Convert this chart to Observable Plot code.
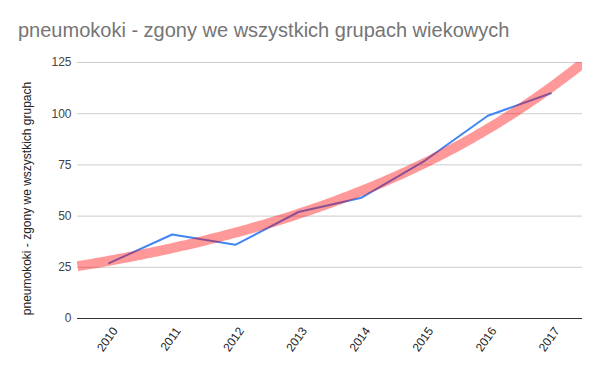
<!DOCTYPE html>
<html>
<head>
<meta charset="utf-8">
<script src="https://cdn.jsdelivr.net/npm/d3@7"></script>
<script src="https://cdn.jsdelivr.net/npm/@observablehq/plot@0.6"></script>
<style>
  html, body { margin: 0; padding: 0; background: #fff; }
  #wrap { position: relative; width: 600px; height: 371px; overflow: hidden; font-family: "Liberation Sans", Arial, sans-serif; }
  #title { position: absolute; left: 18px; top: 19px; font-size: 20px; color: #757575; white-space: nowrap; }
  #chart { position: absolute; left: 0; top: 0; }
</style>
</head>
<body>
<div id="wrap">
  <div id="chart"></div>
  <div id="title">pneumokoki - zgony we wszystkich grupach wiekowych</div>
</div>
<script>
const years = [2010, 2011, 2012, 2013, 2014, 2015, 2016, 2017];
const deaths = [27, 41, 36, 52, 59, 77, 99, 110];
const yTicks = [0, 25, 50, 75, 100, 125];
const seriesLabel = "pneumokoki - zgony we wszystkich grupach";

const data = years.map((year, i) => ({year, value: deaths[i]}));

// Exponential trendline (least squares fit on ln values), like the spreadsheet's trendline
const mx = d3.mean(years);
const ly = deaths.map(v => Math.log(v));
const my = d3.mean(ly);
const b = d3.sum(years.map((x, i) => (x - mx) * (ly[i] - my))) / d3.sum(years.map(x => (x - mx) ** 2));
const a = my - b * mx;
const trend = d3.range(0, 161).map(k => {
  const x = 2009.5 + k * 0.05;
  return {year: x, value: Math.exp(a + b * x)};
});

const chart = Plot.plot({
  width: 600,
  height: 371,
  marginTop: 62,
  marginBottom: 53,
  marginLeft: 77,
  marginRight: 18,
  style: {fontFamily: "'Liberation Sans', Arial, sans-serif", fontSize: "12px", color: "#444", background: "#fff"},
  x: {domain: [2009.5, 2017.5], ticks: years, tickFormat: d => String(d), label: null},
  y: {domain: [0, 125], ticks: yTicks, label: null},
  marks: [
    Plot.gridY(yTicks, {stroke: "#cccccc", strokeOpacity: 1}),
    Plot.axisY(yTicks, {tickSize: 0, tickPadding: 6, label: null, fill: "#444", fontSize: 12}),
    Plot.axisX(years, {tickSize: 0, tickRotate: -55, tickPadding: 6, dx: 6, dy: 4, tickFormat: d => String(d), label: null, fill: "#222", fontSize: 12}),
    Plot.ruleY([0], {stroke: "#333", strokeWidth: 1}),
    Plot.line(data, {x: "year", y: "value", stroke: "#4285f4", strokeWidth: 2}),
    Plot.line(trend, {x: "year", y: "value", stroke: "#ff0000", strokeOpacity: 0.4, strokeWidth: 10, strokeLinecap: "butt", clip: true}),
    Plot.text([seriesLabel], {frameAnchor: "left", dx: -50, dy: 8, rotate: -90, fill: "#222", fontSize: 12, textAnchor: "middle"})
  ]
});
document.getElementById("chart").appendChild(chart);
</script>
</body>
</html>
